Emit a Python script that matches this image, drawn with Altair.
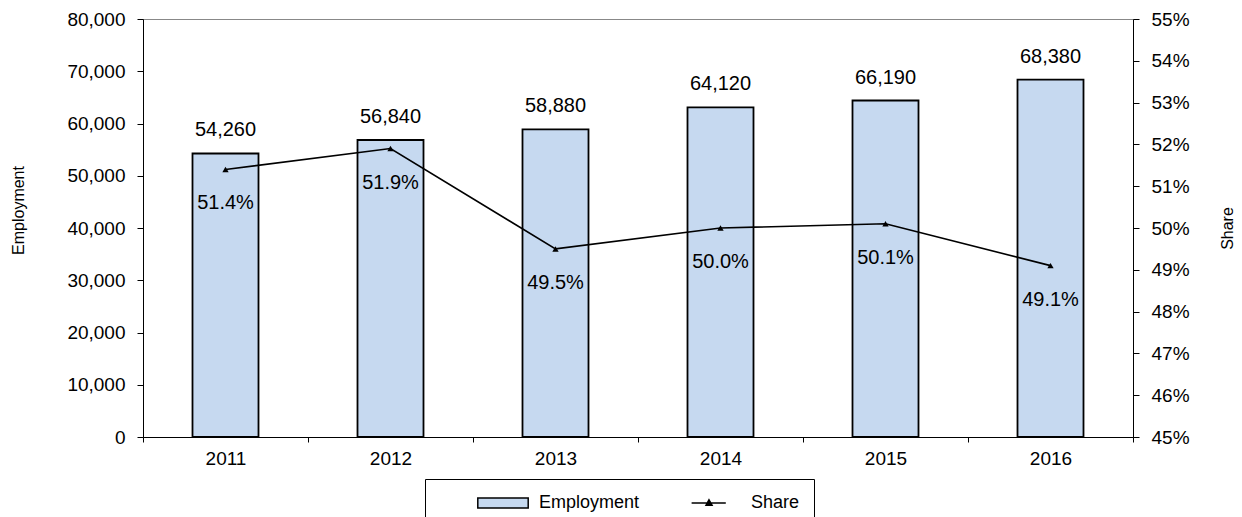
import altair as alt
import pandas as pd

years = ["2011", "2012", "2013", "2014", "2015", "2016"]
employment_bar = [54260, 56840, 58880, 63100, 64400, 68380]
employment_label = [54260, 56840, 58880, 64120, 66190, 68380]
share = [0.514, 0.519, 0.495, 0.500, 0.501, 0.491]
series_names = ["Employment", "Share"]
emp_ticks = [0, 10000, 20000, 30000, 40000, 50000, 60000, 70000, 80000]
share_ticks = [0.45, 0.46, 0.47, 0.48, 0.49, 0.50, 0.51, 0.52, 0.53, 0.54, 0.55]

df = pd.DataFrame({
    "year": years,
    "emp": employment_bar,
    "emp_label": employment_label,
    "share": share,
    "series": ["Share"] * len(years),
})

FONT = "Liberation Sans"

x_enc = alt.X(
    "year:N",
    sort=years,
    scale=alt.Scale(paddingInner=0, paddingOuter=0),
    axis=alt.Axis(title=None, tickBand="extent", labelAngle=0, labelFontSize=19,
                  tickSize=5, labelPadding=7, grid=False),
)

y_emp = alt.Y(
    "emp:Q",
    scale=alt.Scale(domain=[0, 80000], nice=False, zero=True),
    axis=alt.Axis(title="Employment", values=emp_ticks, format=",.0f", tickSize=6,
                  labelPadding=12, labelFontSize=19, grid=False,
                  titleAngle=270, titleX=-125, titleY=191, titleBaseline="middle",
                  titleAlign="center"),
)

y_share = alt.Y(
    "share:Q",
    scale=alt.Scale(domain=[0.45, 0.55], nice=False, zero=False),
    axis=alt.Axis(title="Share", orient="right", values=share_ticks, format=".0%",
                  tickSize=6, labelPadding=12, labelFontSize=19, grid=False,
                  titleAngle=270, titleX=94, titleY=209, titleBaseline="middle",
                  titleAlign="center"),
)

base = alt.Chart(df)

bars = base.mark_bar(width=alt.RelativeBandSize(0.4), fill="#C6D9F0",
                     stroke="black", strokeWidth=1.8).encode(x=x_enc, y=y_emp)
bar_text = base.mark_text(dy=-23, fontSize=20, baseline="middle", font=FONT,
                          color="black").encode(
    x=x_enc, y=y_emp, text=alt.Text("emp_label:Q", format=",.0f"))

legend_def = alt.Legend(
    orient="none", legendX=282, legendY=460, direction="horizontal", columns=2,
    title=None, strokeColor="black", fillColor="white", padding=14,
    labelFontSize=18, labelFont=FONT, labelOffset=80, columnPadding=11,
    symbolSize=324, symbolStrokeWidth=1.5, symbolStrokeColor="black",
    symbolOpacity=1, labelColor="black",
)

rect_path = "M3.2,-0.55H8.8V0.55H3.2Z"
line_path = "M3.4,0H7.2M5.0,0.25L5.33,-0.35L5.67,0.25Z"

line = base.mark_line(color="black", strokeWidth=1.6).encode(x=x_enc, y=y_share)
pts = base.mark_point(shape="triangle-up", filled=True, fill="black", size=40,
                      opacity=1).encode(x=x_enc, y=y_share)
share_text = base.mark_text(dy=34, fontSize=20, baseline="middle", font=FONT,
                            color="black").encode(
    x=x_enc, y=y_share, text=alt.Text("share:Q", format=".1%"))
legend_layer = base.mark_point(filled=True, opacity=0, strokeWidth=1.5).encode(
    x=x_enc, y=y_share,
    fill=alt.Fill("series:N", scale=alt.Scale(domain=series_names,
                                              range=["#C6D9F0", "black"]),
                  legend=legend_def),
    stroke=alt.Stroke("series:N", scale=alt.Scale(domain=series_names,
                                                  range=["black", "black"]),
                      legend=legend_def),
    shape=alt.Shape("series:N", scale=alt.Scale(domain=series_names,
                                                range=[rect_path, line_path]),
                    legend=legend_def),
)

left = alt.layer(bars, bar_text)
right = alt.layer(line, pts, share_text, legend_layer)

chart = alt.layer(left, right).resolve_scale(y="independent").properties(
    width=990, height=418,
    autosize=alt.AutoSizeParams(type="none"),
    padding={"left": 135, "top": 11, "right": 101, "bottom": 80},
).configure_axis(
    labelFont=FONT, titleFont=FONT, titleFontSize=16, titleFontWeight="normal",
    labelColor="black", titleColor="black", domainColor="black",
    tickColor="black", domainWidth=1, tickWidth=1,
).configure_view(stroke="#888888", strokeWidth=1).configure_text(font=FONT)

chart.save("out.html", embed_options={"renderer": "svg", "actions": False})
